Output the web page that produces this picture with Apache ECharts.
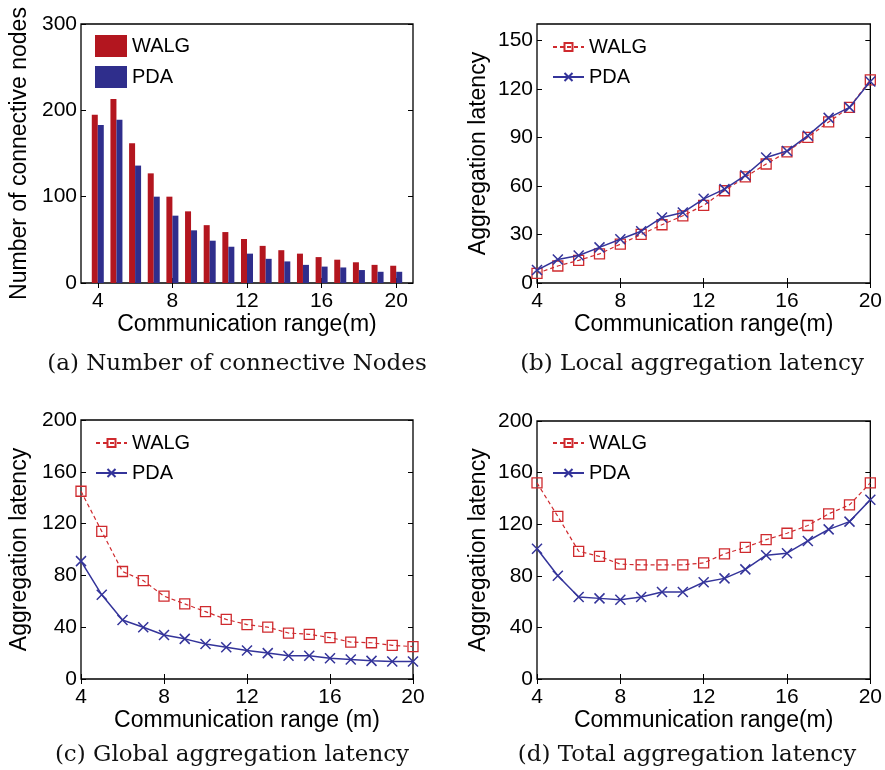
<!DOCTYPE html>
<html>
<head>
<meta charset="utf-8">
<script src="https://cdn.jsdelivr.net/npm/echarts@6/dist/echarts.min.js"></script>
<style>
	html, body { margin: 0; padding: 0; background: #fff; }
	#chart { width: 885px; height: 770px; }
</style>
</head>
<body>
<div id="chart"></div>
<script>
// communication range (m)
var ranges = [4, 5, 6, 7, 8, 9, 10, 11, 12, 13, 14, 15, 16, 17, 18, 19, 20];
var rangeTicks = [4, 8, 12, 16, 20];

// (a) number of connective nodes
var nodesWalg = [195, 213, 162, 127, 100, 83, 67, 59, 51, 43, 38, 34, 30, 27, 24, 21, 20];
var nodesPda = [183, 189, 136, 100, 78, 61, 49, 42, 34, 28, 25, 21, 19, 18, 15, 13, 13];

// (b) local aggregation latency
var localWalg = [6, 10.5, 14, 18, 24, 30, 36, 41.5, 48, 57, 65.5, 73.5, 81, 90, 99.5, 108.5, 125.5];
var localPda = [8, 14.5, 17, 22, 27, 32, 40.5, 43.5, 52, 58, 66.5, 77.5, 81.5, 91, 102, 108.5, 124.5];
var localTicks = [0, 30, 60, 90, 120, 150];

// (c) global aggregation latency
var globalWalg = [145, 114, 83, 76, 64, 58, 52, 46, 42, 40, 35.5, 34.5, 32, 28.5, 28, 26, 25];
var globalPda = [91, 65, 45.5, 40, 34, 31, 27, 24.5, 22, 20, 18, 18, 16, 15, 14, 13.5, 13.5];

// (d) total aggregation latency
var totalWalg = [152, 126, 99, 95, 89, 88.5, 88.5, 88.5, 90, 97, 102, 108, 113, 119, 128, 135, 152];
var totalPda = [101, 80, 63.5, 62.5, 61.5, 63.5, 67.5, 67.5, 75, 78, 85, 96, 97.5, 107, 116, 122, 139];

var captions = [
	'(a) Number of connective Nodes',
	'(b) Local aggregation latency',
	'(c) Global aggregation latency',
	'(d) Total aggregation latency'
];

var red = '#cf2a2e';
var blue = '#34349a';
var barRed = '#b3161f';
var barBlue = '#2f2e8c';
var sans = 'Liberation Sans';

function pairs(values) {
	return ranges.map(function (x, i) { return [x, values[i]]; });
}

var grids = [
	{left: 81, top: 24, width: 332, height: 259},
	{left: 537, top: 24, width: 335, height: 259},
	{left: 81, top: 420, width: 332, height: 259},
	{left: 537, top: 421, width: 335, height: 258}
];

var xAxes = [];
var yAxes = [];

function addAxes(g, xopt, yopt, xname, yname, ygap) {
	var tick = {show: true, inside: true, length: 5, lineStyle: {color: '#000', width: 1}};
	xAxes.push(Object.assign({
		type: 'value', gridIndex: g, position: 'bottom',
		name: xname, nameLocation: 'middle', nameGap: 27,
		nameTextStyle: {fontSize: 23, fontFamily: sans, color: '#000'},
		axisLine: {show: false},
		axisTick: tick,
		axisLabel: {fontSize: 21, fontFamily: sans, color: '#000', margin: 8},
		splitLine: {show: false}
	}, xopt));
	xAxes.push(Object.assign({
		type: 'value', gridIndex: g, position: 'top',
		axisLine: {show: false}, axisTick: tick,
		axisLabel: {show: false}, splitLine: {show: false}
	}, xopt, {axisLabel: {show: false}}));
	yAxes.push(Object.assign({
		type: 'value', gridIndex: g, position: 'left',
		name: yname, nameLocation: 'middle', nameGap: ygap,
		nameTextStyle: {fontSize: 23, fontFamily: sans, color: '#000'},
		axisLine: {show: false},
		axisTick: tick,
		axisLabel: {fontSize: 21, fontFamily: sans, color: '#000', margin: 4},
		splitLine: {show: false}
	}, yopt));
	yAxes.push(Object.assign({
		type: 'value', gridIndex: g, position: 'right',
		axisLine: {show: false}, axisTick: tick,
		axisLabel: {show: false}, splitLine: {show: false}
	}, yopt, {axisLabel: {show: false}}));
}

// x axis of (a) is a value axis padded around the bar groups
addAxes(0,
	{min: 3.1, max: 20.9, axisLabel: {customValues: rangeTicks, fontSize: 21, fontFamily: sans, color: '#000', margin: 8},
		axisTick: {show: true, inside: true, length: 5, customValues: rangeTicks, lineStyle: {color: '#000'}}},
	{min: 0, max: 300, interval: 100},
	'Communication range(m)', 'Number of connective nodes', 50);
addAxes(1,
	{min: 4, max: 20, interval: 4},
	{min: 0, max: 160, axisLabel: {customValues: localTicks, fontSize: 21, fontFamily: sans, color: '#000', margin: 4},
		axisTick: {show: true, inside: true, length: 5, customValues: localTicks, lineStyle: {color: '#000'}}},
	'Communication range(m)', 'Aggregation latency', 47);
addAxes(2,
	{min: 4, max: 20, interval: 4},
	{min: 0, max: 200, interval: 40},
	'Communication range (m)', 'Aggregation latency', 50);
addAxes(3,
	{min: 4, max: 20, interval: 4},
	{min: 0, max: 200, interval: 40},
	'Communication range(m)', 'Aggregation latency', 47);

function walgLine(tag, g, values) {
	return {
		name: 'WALG#' + tag, type: 'line', xAxisIndex: g * 2, yAxisIndex: g * 2,
		data: pairs(values),
		symbol: 'rect', symbolSize: 10,
		itemStyle: {color: 'transparent', borderColor: red, borderWidth: 1.3},
		lineStyle: {color: red, width: 1.2, type: [4, 3]},
		z: 3
	};
}

function pdaLine(tag, g, values) {
	return {
		name: 'PDA#' + tag, type: 'line', xAxisIndex: g * 2, yAxisIndex: g * 2,
		data: pairs(values),
		symbol: 'path://M0,0L10,10M0,10L10,0', symbolSize: 10,
		itemStyle: {color: 'transparent', borderColor: blue, borderWidth: 1.5},
		lineStyle: {color: blue, width: 1.5},
		z: 4
	};
}

var series = [
	{name: 'WALG#a', type: 'bar', xAxisIndex: 0, yAxisIndex: 0, data: pairs(nodesWalg),
		barWidth: 6, barGap: 0, itemStyle: {color: barRed}},
	{name: 'PDA#a', type: 'bar', xAxisIndex: 0, yAxisIndex: 0, data: pairs(nodesPda),
		barWidth: 6, barGap: 0, itemStyle: {color: barBlue}},
	walgLine('b', 1, localWalg),
	pdaLine('b', 1, localPda),
	walgLine('c', 2, globalWalg),
	pdaLine('c', 2, globalPda),
	walgLine('d', 3, totalWalg),
	pdaLine('d', 3, totalPda)
];

function legend(tag, left, top, extra) {
	return Object.assign({
		orient: 'vertical', left: left, top: top, padding: 0,
		itemWidth: 31, itemHeight: 10, itemGap: 10,
		data: ['WALG#' + tag, 'PDA#' + tag],
		formatter: function (name) { return name.split('#')[0]; },
		textStyle: {fontSize: 20, fontFamily: sans, color: '#000'},
		selectedMode: false
	}, extra || {});
}

var legends = [
	legend('a', 95, 35, {itemWidth: 32, itemHeight: 22, itemGap: 9, icon: 'rect'}),
	legend('b', 552, 37),
	legend('c', 95, 433),
	legend('d', 552, 433)
];

var captionPos = [[237, 364], [692, 364], [232, 755], [687, 755]];
var graphics = captions.map(function (text, i) {
	return {
		type: 'text', x: captionPos[i][0], y: captionPos[i][1],
		style: {text: text, align: 'center', verticalAlign: 'middle',
			font: '23px "DejaVu Serif"', fill: '#111'}
	};
});

var chart = echarts.init(document.getElementById('chart'));
chart.setOption({
	animation: false,
	backgroundColor: '#fff',
	grid: grids.map(function (g) {
		return Object.assign({show: true, borderColor: '#000', borderWidth: 1.3, backgroundColor: 'transparent'}, g);
	}),
	xAxis: xAxes,
	yAxis: yAxes,
	legend: legends,
	series: series,
	graphic: graphics
});
</script>
</body>
</html>
